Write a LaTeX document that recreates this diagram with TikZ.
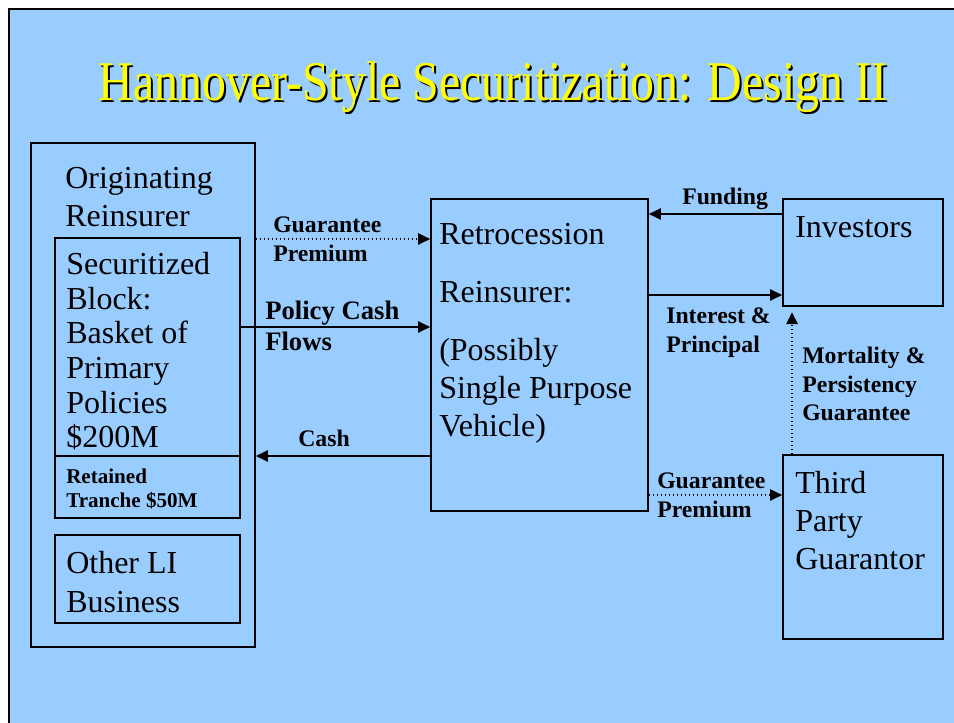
\documentclass[tikz,border=0pt]{standalone}
\usepackage{fontspec}
\setmainfont{Liberation Serif}
\usetikzlibrary{arrows.meta,fit}
\definecolor{slideblue}{HTML}{99CCFF}
\definecolor{titleyellow}{HTML}{FFFF00}

\begin{document}
\begin{tikzpicture}[
        x=0.75pt, y=-0.75pt,
        box/.style={draw, line width=1.3pt, inner sep=0pt},
        boxtext/.style={
            anchor=base west,
            inner sep=0pt,
            align=left,
            font=\fontsize{24}{28.5}\selectfont,},
        flowlabel/.style={
            anchor=base west,
            inner sep=0pt,
            align=left,
            font=\bfseries\fontsize{17.8}{21.75}\selectfont,},
        flow/.style={
            line width=1pt,
            -{Triangle[length=9pt,width=8.5pt]},},
        dottedflow/.style={flow, dotted},
        ]

        \useasboundingbox (0,0) rectangle (954,723);
        \fill[slideblue] (9,9) rectangle (954,723);
        \draw[line width=2.2pt] (9,723) -- (9,9) -- (954,9);

        % title with its shadow
        \node[anchor=base, font=\fontsize{42}{42}\selectfont, xscale=.855, text=black] (titleshadow) at (495,103) {Hannover-Style Securitization: Design II};
        \node[anchor=base, font=\fontsize{42}{42}\selectfont, xscale=.855, text=titleyellow] (title) at (493,101) {Hannover-Style Securitization: Design II};

        % boxes
        \node[box, fit={(31,143) (255,647)}] (orig) {};
        \node[box, fit={(55,238) (240,456)}] (block) {};
        \node[box, fit={(55,456) (240,518)}] (tranche) {};
        \node[box, fit={(55,535) (240,623)}] (other) {};
        \node[box, fit={(431,199) (648,511)}] (retro) {};
        \node[box, fit={(783,199) (943,306)}] (investors) {};
        \node[box, fit={(783,455) (943,639)}] (guarantor) {};

        % box texts (anchored at the baseline of their last line)
        \node[boxtext] (origtext) at (65,227) {Originating\\Reinsurer};
        \node[boxtext, font=\fontsize{24}{26}\selectfont] (blocktext) at (66,448) {Securitized\\Block:\\Basket of\\Primary\\Policies\\\$200M};
        \node[boxtext, font=\bfseries\fontsize{15.8}{18}\selectfont] (tranchetext) at (66,508) {Retained\\Tranche \$50M};
        \node[boxtext, font=\fontsize{24}{29.25}\selectfont] (othertext) at (66,613) {Other LI\\Business};
        \node[boxtext, font=\fontsize{24}{28.5}\selectfont] (retrotext) at (439,437) {Retrocession\\[15.5pt]Reinsurer:\\[15pt](Possibly\\Single Purpose\\Vehicle)};
        \node[boxtext] (investorstext) at (795,238) {Investors};
        \node[boxtext] (guarantortext) at (795,570) {Third\\Party\\Guarantor};

        % flows
        \draw[dottedflow] (orig.east |- 0,239) -- (retro.west |- 0,239);
        \node[flowlabel] (gpleft) at (273,262) {Guarantee\\Premium};

        \draw[flow] (block.east |- 0,327) -- (retro.west |- 0,327);
        \node[flowlabel, font=\bfseries\fontsize{20}{23.25}\selectfont] (policy) at (265,351) {Policy Cash\\Flows};

        \draw[flow] (retro.west |- 0,456) -- (orig.east |- 0,456);
        \node[flowlabel] (cash) at (298,447) {Cash};

        \draw[flow] (investors.west |- 0,214) -- (retro.east |- 0,214);
        \node[flowlabel] (funding) at (682,205) {Funding};

        \draw[flow] (retro.east |- 0,295) -- (investors.west |- 0,295);
        \node[flowlabel] (interest) at (666,353) {Interest \&\\Principal};

        \draw[dottedflow] (retro.east |- 0,495) -- (guarantor.west |- 0,495);
        \node[flowlabel] (gpright) at (657,518) {Guarantee\\Premium};

        \draw[dottedflow, line width=1.6pt, shorten >=4pt] (guarantor.north -| 792,0) -- (investors.south -| 792,0);
        \node[flowlabel, font=\bfseries\fontsize{17.8}{21.4}\selectfont] (mortality) at (802,421) {Mortality \&\\Persistency\\Guarantee};

    \end{tikzpicture}
\end{document}
